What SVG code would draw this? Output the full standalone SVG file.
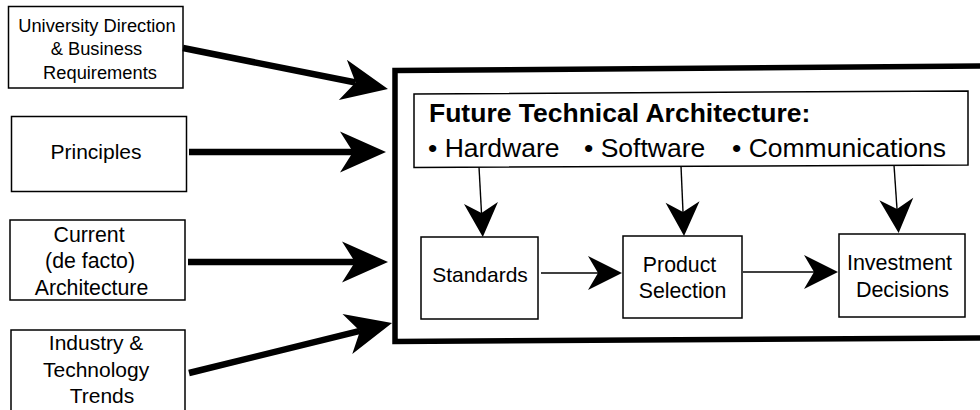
<svg xmlns="http://www.w3.org/2000/svg" width="980" height="410" viewBox="0 0 980 410">
  <style>
    .box { fill: #ffffff; stroke: #000000; stroke-width: 1.5; }
    .frame { fill: none; stroke: #000000; stroke-width: 5.5; }
    .txt { font-family: "Liberation Sans", Arial, Helvetica, sans-serif; fill: #000000; }
    .big { stroke: #000000; stroke-width: 6.5; fill: none; marker-end: url(#bigHead); }
    .thin { stroke: #000000; stroke-width: 1.4; fill: none; marker-end: url(#smallHead); }
  </style>
  <defs>
    <marker id="bigHead" markerUnits="userSpaceOnUse" viewBox="-16 -23 52 46" refX="0" refY="0" markerWidth="52" markerHeight="46" orient="auto">
      <path d="M33,0 L-13,-20.5 L0,0 L-13,20.5 Z" fill="#000000"/>
    </marker>
    <marker id="smallHead" markerUnits="userSpaceOnUse" viewBox="-12 -19 38 38" refX="0" refY="0" markerWidth="38" markerHeight="38" orient="auto">
      <path d="M24,0 L-10,-17 L0,0 L-10,17 Z" fill="#000000"/>
    </marker>
  </defs>
  <rect width="980" height="410" fill="#ffffff"/>

  <g id="frame">
    <path class="frame" d="M395,70.5 L990,66 L990,338 L395,341.5 Z"/>
  </g>

  <g id="node-university">
    <rect class="box" x="8.5" y="6.5" width="174.5" height="81.5"/>
    <text class="txt" font-size="18.3" text-anchor="middle">
      <tspan x="99.5" y="31.5">University Direction</tspan>
      <tspan x="99" y="55">&amp; Business</tspan>
      <tspan x="100" y="78.5">Requirements</tspan>
    </text>
  </g>

  <g id="node-principles">
    <rect class="box" x="11.5" y="116.5" width="175" height="75"/>
    <text class="txt" font-size="21" text-anchor="middle" x="96" y="159">Principles</text>
  </g>

  <g id="node-current">
    <rect class="box" x="10" y="220" width="175" height="80"/>
    <text class="txt" font-size="21.3" text-anchor="middle">
      <tspan x="92" y="242">Current</tspan>
      <tspan x="93" y="267.5">(de facto)</tspan>
      <tspan x="91.5" y="295">Architecture</tspan>
    </text>
  </g>

  <g id="node-industry">
    <rect class="box" x="11" y="330" width="174" height="90"/>
    <text class="txt" font-size="21" text-anchor="middle">
      <tspan x="99" y="350">Industry &amp;</tspan>
      <tspan x="99" y="376.5">Technology</tspan>
      <tspan x="102" y="403">Trends</tspan>
    </text>
  </g>

  <g id="node-fta">
    <path class="box" d="M414,94 L968,91 L968,165 L414,167.5 Z"/>
    <text class="txt" font-size="26.5" font-weight="bold" x="429" y="122">Future Technical Architecture:</text>
    <text class="txt" font-size="26.5" x="428" y="157">• Hardware</text>
    <text class="txt" font-size="26.5" x="584" y="157">• Software</text>
    <text class="txt" font-size="26.5" x="732" y="157">• Communications</text>
  </g>

  <g id="node-standards">
    <rect class="box" x="421" y="237" width="117" height="82"/>
    <text class="txt" font-size="21" text-anchor="middle" x="480" y="282">Standards</text>
  </g>

  <g id="node-product">
    <rect class="box" x="623" y="236" width="119" height="82"/>
    <text class="txt" font-size="21.3" text-anchor="middle">
      <tspan x="682.5" y="272">Product</tspan>
      <tspan x="682.5" y="298">Selection</tspan>
    </text>
  </g>

  <g id="node-investment">
    <rect class="box" x="839" y="234" width="126" height="83"/>
    <text class="txt" font-size="21.5" text-anchor="middle">
      <tspan x="902.5" y="270">Investment</tspan>
      <tspan x="902.5" y="297">Decisions</tspan>
    </text>
  </g>

  <g id="connectors">
    <line class="big" x1="183" y1="48" x2="355.6" y2="82.5"/>
    <line class="big" x1="189" y1="152" x2="353" y2="152"/>
    <line class="big" x1="188" y1="262" x2="355" y2="262"/>
    <line class="big" x1="189" y1="373" x2="360" y2="330.9"/>
    <line class="thin" x1="479" y1="167" x2="481.5" y2="213"/>
    <line class="thin" x1="681" y1="166" x2="683" y2="212"/>
    <line class="thin" x1="894" y1="165" x2="897" y2="209"/>
    <line class="thin" x1="541" y1="273" x2="598" y2="273"/>
    <line class="thin" x1="743" y1="272" x2="814" y2="272"/>
  </g>
</svg>
